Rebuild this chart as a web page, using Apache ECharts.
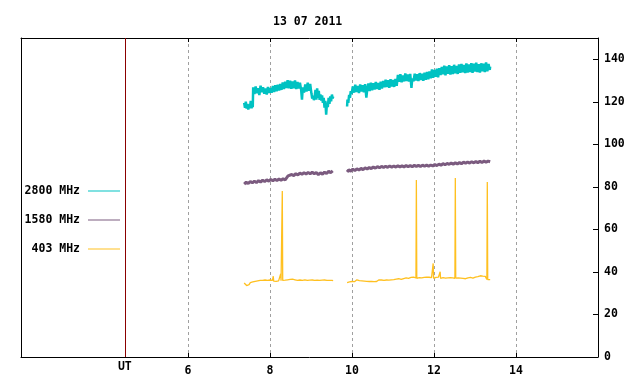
<!DOCTYPE html>
<html>
<head>
<meta charset="utf-8">
<script src="https://cdn.jsdelivr.net/npm/echarts@6/dist/echarts.min.js"></script>
<style>html,body{margin:0;padding:0;background:#fff}#c{width:640px;height:384px}</style>
</head>
<body>
<div id="c"></div>
<script>
const titleText = '13 07 2011';
const seriesNames = ['2800 MHz', '1580 MHz', '403 MHz'];
const gridHours = [6, 8, 10, 12, 14];
const utHour = 4.46;
const yTicks = [0, 20, 40, 60, 80, 100, 120, 140];

const data2800 = [
[7.37,119.5],[7.39,117.2],[7.41,120.1],[7.43,116.8],[7.45,119.0],[7.47,116.3],[7.49,118.7],[7.51,117.0],[7.53,120.4],[7.55,116.9],[7.57,119.3],[7.58,117.5],
[7.59,126.8],[7.62,123.6],[7.65,127.2],[7.68,124.0],[7.71,126.4],[7.74,123.2],[7.77,127.6],[7.80,124.5],[7.83,126.9],[7.86,123.8],[7.89,126.2],[7.92,123.4],[7.95,127.0],[7.98,124.1],
[8.01,126.5],[8.04,124.3],[8.07,127.4],[8.10,124.6],[8.13,127.8],[8.16,124.9],[8.19,128.0],[8.22,125.3],[8.25,128.4],[8.28,125.6],[8.31,129.1],[8.34,126.0],[8.37,129.4],[8.40,126.5],[8.43,130.2],
[8.46,126.3],[8.49,129.9],[8.52,126.1],[8.55,129.6],[8.58,126.4],[8.61,130.0],[8.64,126.0],[8.67,129.3],[8.70,126.2],[8.73,129.0],[8.76,125.6],[8.78,121.0],[8.80,126.8],
[8.83,124.3],[8.86,128.2],[8.89,124.8],[8.92,129.0],[8.95,125.2],[8.98,128.4],[9.01,124.0],[9.03,121.5],[9.05,122.9],[9.07,120.8],[9.09,122.5],
[9.11,125.6],[9.13,121.0],[9.15,126.3],[9.17,121.8],[9.19,125.2],[9.21,120.9],[9.23,123.5],[9.25,120.6],[9.27,123.0],[9.29,119.5],[9.31,121.8],[9.33,117.2],[9.35,120.4],[9.37,114.0],[9.39,119.6],[9.41,117.5],[9.43,121.8],[9.45,119.0],[9.47,122.6],[9.49,120.2],[9.51,123.4],[9.53,121.5],[9.54,122.5],
[9.7,null],
[9.88,117.8],[9.89,121.0],[9.91,119.5],[9.93,123.2],[9.95,121.8],[9.97,125.0],[9.99,123.6],[10.02,127.2],[10.05,124.3],[10.08,128.0],[10.11,124.6],[10.14,127.5],[10.17,124.1],[10.20,128.2],[10.23,124.8],[10.26,127.8],[10.29,124.5],[10.32,128.3],[10.35,122.0],[10.37,125.5],
[10.40,128.6],[10.43,125.0],[10.46,129.0],[10.49,125.4],[10.52,128.7],[10.55,125.8],[10.58,129.3],[10.61,126.0],[10.64,128.9],[10.67,125.6],[10.70,129.4],[10.73,126.2],[10.76,129.8],
[10.79,126.8],[10.82,130.4],[10.85,127.0],[10.88,130.1],[10.91,126.6],[10.94,130.6],[10.97,127.2],[11.00,130.3],[11.03,127.0],[11.06,130.8],[11.09,127.5],
[11.12,132.6],[11.15,129.4],[11.18,133.0],[11.21,129.2],[11.24,132.4],[11.27,129.6],[11.30,133.3],[11.33,129.8],[11.36,132.8],[11.39,129.5],[11.42,133.1],[11.45,126.5],[11.47,131.0],[11.50,129.7],[11.53,133.2],[11.56,130.0],[11.59,133.0],[11.62,129.8],[11.65,133.5],[11.68,130.2],[11.71,133.2],[11.74,129.9],[11.77,133.7],[11.80,130.4],[11.83,134.0],[11.86,130.6],[11.89,134.3],
[11.92,131.0],[11.95,135.2],[11.98,131.3],[12.01,135.0],[12.04,131.8],[12.07,135.6],[12.10,131.5],[12.13,135.8],
[12.16,132.6],[12.19,136.4],[12.22,132.9],[12.25,137.0],[12.28,132.5],[12.31,136.6],[12.34,133.2],[12.37,137.2],[12.40,132.8],[12.43,136.8],[12.46,133.0],[12.49,137.4],[12.52,133.4],[12.55,136.9],[12.58,133.1],[12.61,137.6],
[12.64,133.6],[12.67,137.8],[12.70,133.9],[12.73,137.3],[12.76,133.5],[12.79,138.0],[12.82,133.8],[12.85,137.6],[12.88,134.0],[12.91,138.2],[12.94,133.6],[12.97,137.9],[13.00,134.2],[13.03,138.4],[13.06,134.0],[13.09,137.7],[13.12,133.7],[13.15,138.1],[13.18,134.3],[13.21,137.9],[13.24,134.0],[13.27,138.5],[13.30,134.4],[13.33,137.8],[13.36,135.0],[13.37,136.5]
];

const data1580 = [
[7.37,81.3],[7.42,82.2],[7.47,81.6],[7.52,82.5],[7.57,81.9],[7.62,82.7],[7.67,82.0],[7.72,82.9],[7.77,82.3],[7.82,83.1],[7.87,82.5],[7.92,83.3],[7.97,82.7],[8.02,83.5],[8.07,82.9],[8.12,83.6],[8.17,83.0],[8.22,83.7],[8.27,83.1],[8.32,83.8],[8.37,83.3],[8.41,84.0],[8.44,85.2],[8.48,84.8],[8.53,85.8],[8.58,85.3],[8.63,86.2],[8.68,85.6],[8.73,86.5],[8.78,85.9],[8.83,86.7],[8.88,86.0],[8.93,86.8],[8.98,86.1],[9.03,86.9],[9.08,86.2],[9.13,86.7],[9.18,85.8],[9.23,86.6],[9.28,86.0],[9.33,86.9],[9.38,86.3],[9.43,87.3],[9.48,86.7],[9.53,87.5],
[9.7,null],
[9.88,87.0],[9.92,88.0],[9.97,87.4],[10.02,88.3],[10.07,87.7],[10.12,88.5],[10.17,87.9],[10.22,88.7],[10.27,88.1],[10.32,88.9],[10.37,88.4],[10.42,89.1],[10.47,88.6],[10.52,89.3],[10.57,88.8],[10.62,89.5],[10.67,89.0],[10.72,89.6],[10.77,89.1],[10.82,89.7],[10.87,89.2],[10.92,89.8],[10.97,89.3],[11.02,89.8],[11.07,89.3],[11.12,89.9],[11.17,89.4],[11.22,89.9],[11.27,89.4],[11.32,90.0],[11.37,89.5],[11.42,90.0],[11.47,89.5],[11.52,90.1],[11.57,89.6],[11.62,90.1],[11.67,89.6],[11.72,90.2],[11.77,89.7],[11.82,90.2],[11.87,89.7],[11.92,90.3],[11.97,89.8],[12.02,90.5],[12.07,90.0],[12.12,90.7],[12.17,90.2],[12.22,90.9],[12.27,90.4],[12.32,91.0],[12.37,90.6],[12.42,91.2],[12.47,90.7],[12.52,91.3],[12.57,90.8],[12.62,91.4],[12.67,90.9],[12.72,91.6],[12.77,91.1],[12.82,91.7],[12.87,91.2],[12.92,91.8],[12.97,91.3],[13.02,91.9],[13.07,91.4],[13.12,92.0],[13.17,91.5],[13.22,92.1],[13.27,91.6],[13.32,92.1],[13.37,91.8]
];

const data403 = [
[7.37,34.8],[7.40,34.0],[7.43,33.6],[7.46,34.5],[7.49,34.0],[7.52,35.0],[7.55,34.6],[7.58,35.3],[7.61,34.9],[7.64,35.6],[7.67,35.2],[7.70,35.8],[7.73,35.5],[7.76,36.0],[7.79,35.6],[7.82,36.0],[7.85,35.7],[7.88,36.2],[7.91,35.8],[7.94,36.0],[7.97,35.6],[8.00,36.2],[8.03,35.8],[8.06,36.0],[8.08,38.0],[8.09,35.7],[8.12,36.0],[8.15,35.6],[8.18,36.1],[8.21,35.8],[8.24,36.0],[8.26,39.0],[8.27,35.9],[8.29,36.0],[8.30,78.0],[8.31,36.0],[8.34,35.7],[8.37,36.1],[8.40,35.6],[8.43,36.3],[8.46,35.9],[8.49,36.5],[8.52,36.0],[8.55,36.6],[8.58,35.8],[8.61,36.3],[8.64,35.6],[8.67,36.0],[8.70,35.5],[8.73,36.2],[8.76,35.7],[8.79,36.0],[8.82,35.6],[8.85,36.3],[8.88,35.9],[8.91,36.0],[8.94,35.7],[8.97,36.1],[9.00,35.8],[9.03,36.2],[9.06,35.9],[9.09,36.0],[9.12,35.7],[9.15,36.1],[9.18,35.8],[9.21,36.0],[9.24,35.8],[9.27,36.1],[9.30,35.8],[9.33,36.2],[9.36,35.9],[9.39,36.0],[9.42,35.8],[9.45,36.0],[9.48,35.9],[9.51,36.0],[9.54,35.9],
[9.7,null],
[9.88,35.0],[9.91,35.6],[9.94,35.3],[9.97,35.7],[10.00,35.5],[10.03,35.9],[10.06,35.4],[10.09,35.8],[10.12,36.3],[10.15,35.6],[10.18,35.9],[10.21,35.5],[10.24,35.8],[10.27,35.4],[10.30,35.7],[10.33,35.4],[10.36,35.6],[10.39,35.3],[10.42,35.5],[10.45,35.3],[10.48,35.5],[10.51,35.3],[10.54,35.4],[10.57,35.2],[10.60,35.5],[10.63,35.6],[10.66,36.3],[10.69,35.8],[10.72,36.2],[10.75,35.9],[10.78,36.0],[10.81,35.8],[10.84,36.2],[10.87,35.9],[10.90,36.1],[10.93,35.8],[10.96,36.3],[10.99,36.0],[11.02,36.4],[11.05,36.0],[11.08,36.6],[11.11,36.2],[11.14,36.8],[11.17,36.3],[11.20,36.5],[11.23,36.1],[11.26,36.9],[11.29,36.4],[11.32,37.2],[11.35,36.5],[11.38,37.0],[11.41,36.6],[11.44,37.4],[11.47,36.7],[11.50,37.6],[11.53,36.8],[11.56,37.2],[11.57,83.2],[11.58,37.0],[11.61,36.6],[11.64,37.3],[11.67,36.8],[11.70,37.2],[11.73,36.7],[11.76,37.4],[11.79,36.9],[11.82,37.6],[11.85,37.0],[11.88,37.5],[11.91,36.8],[11.94,37.3],[11.97,36.9],[11.98,44.0],[11.99,37.0],[12.02,36.7],[12.05,37.4],[12.08,36.8],[12.11,37.6],[12.14,36.9],[12.15,40.1],[12.16,37.0],[12.19,36.8],[12.22,37.3],[12.25,36.9],[12.28,37.1],[12.31,36.7],[12.34,37.2],[12.37,36.8],[12.40,37.3],[12.43,36.9],[12.46,37.2],[12.49,36.8],[12.51,37.0],[12.52,84.2],[12.53,37.1],[12.56,36.7],[12.59,37.2],[12.62,36.5],[12.65,37.1],[12.68,36.6],[12.71,37.0],[12.74,36.2],[12.77,36.8],[12.80,36.4],[12.83,37.2],[12.86,36.5],[12.89,37.4],[12.92,38.0],[12.95,37.1],[12.98,36.8],[13.01,37.6],[13.04,37.0],[13.07,37.8],[13.10,37.2],[13.13,38.2],[13.16,37.5],[13.19,38.0],[13.22,37.4],[13.25,37.9],[13.28,37.2],[13.29,36.5],[13.30,82.3],[13.31,36.4],[13.33,36.0],[13.35,36.8],[13.37,36.4]
];

const FONT = 'DejaVu Sans Mono';
const FS = 11.5;
const chart = echarts.init(document.getElementById('c'), null, {renderer: 'canvas'});
const black = '#000';

chart.setOption({
  animation: false,
  backgroundColor: '#fff',
  title: {
    text: titleText, left: 268, top: 11,
    textStyle: {fontFamily: FONT, fontSize: FS, fontWeight: 'bold', color: black}
  },
  legend: {
    orient: 'vertical', left: 16, top: 180, itemGap: 17, align: 'right',
    itemWidth: 32, itemHeight: 1, icon: 'rect',
    data: seriesNames,
    formatter: n => '{a|' + n + '}',
    textStyle: {
      fontFamily: FONT, fontSize: FS, fontWeight: 'bold', color: black,
      rich: {a: {width: 59, align: 'right', padding: [0, 3, 0, 0], lineHeight: 14,
                 fontFamily: FONT, fontSize: FS, fontWeight: 'bold', color: black}}
    }
  },
  grid: {left: 21, right: 42, top: 38, bottom: 27, containLabel: false},
  xAxis: [
    {
      type: 'value', position: 'bottom', min: 1.927, max: 16,
      axisLine: {show: true, onZero: false, lineStyle: {color: black, width: 1}},
      axisTick: {show: true, inside: true, length: 4, customValues: gridHours, lineStyle: {color: black}},
      axisLabel: {
        show: true, margin: 7, customValues: [utHour].concat(gridHours),
        formatter: v => Math.abs(v - utHour) < 1e-6 ? '{u|UT}' : '{a|' + v + '}',
        fontFamily: FONT, fontSize: FS, fontWeight: 'bold', color: black,
        rich: {
          a: {fontFamily: FONT, fontSize: FS, fontWeight: 'bold', color: black, lineHeight: 14},
          u: {fontFamily: FONT, fontSize: FS, fontWeight: 'bold', color: black, lineHeight: 7}
        }
      },
      splitLine: {show: true, lineStyle: {color: '#a0a0a0', type: [3, 3], width: 1}}
    },
    {
      type: 'value', position: 'top', min: 1.927, max: 16,
      axisLine: {show: true, onZero: false, lineStyle: {color: black, width: 1}},
      axisTick: {show: true, inside: true, length: 4, customValues: gridHours, lineStyle: {color: black}},
      axisLabel: {show: false},
      splitLine: {show: false}
    }
  ],
  yAxis: [
    {
      type: 'value', position: 'right', min: 0, max: 150,
      axisLine: {show: true, onZero: false, lineStyle: {color: black, width: 1}},
      axisTick: {show: true, inside: true, length: 5, customValues: yTicks, lineStyle: {color: black}},
      axisLabel: {show: true, margin: 6, customValues: yTicks,
        fontFamily: FONT, fontSize: FS, fontWeight: 'bold', color: black},
      splitLine: {show: false}
    },
    {
      type: 'value', position: 'left', min: 0, max: 150,
      axisLine: {show: true, onZero: false, lineStyle: {color: black, width: 1}},
      axisTick: {show: false}, axisLabel: {show: false}, splitLine: {show: false}
    }
  ],
  series: [
    {
      name: seriesNames[0], type: 'line', data: data2800, xAxisIndex: 0, yAxisIndex: 0,
      showSymbol: false, symbol: 'none', connectNulls: false,
      color: '#00c2c2', lineStyle: {color: '#00c2c2', width: 2.5},
      markLine: {
        silent: true, symbol: ['none', 'none'], label: {show: false},
        lineStyle: {color: '#8b0000', type: 'solid', width: 1},
        data: [{xAxis: utHour}]
      },
      z: 3
    },
    {
      name: seriesNames[1], type: 'line', data: data1580, xAxisIndex: 0, yAxisIndex: 0,
      showSymbol: false, symbol: 'none', connectNulls: false,
      color: '#7b5b7f', lineStyle: {color: '#7b5b7f', width: 3}, z: 3
    },
    {
      name: seriesNames[2], type: 'line', data: data403, xAxisIndex: 0, yAxisIndex: 0,
      showSymbol: false, symbol: 'none', connectNulls: false,
      color: '#ffc020', lineStyle: {color: '#ffc020', width: 1.3}, z: 3
    }
  ]
});
</script>
</body>
</html>
